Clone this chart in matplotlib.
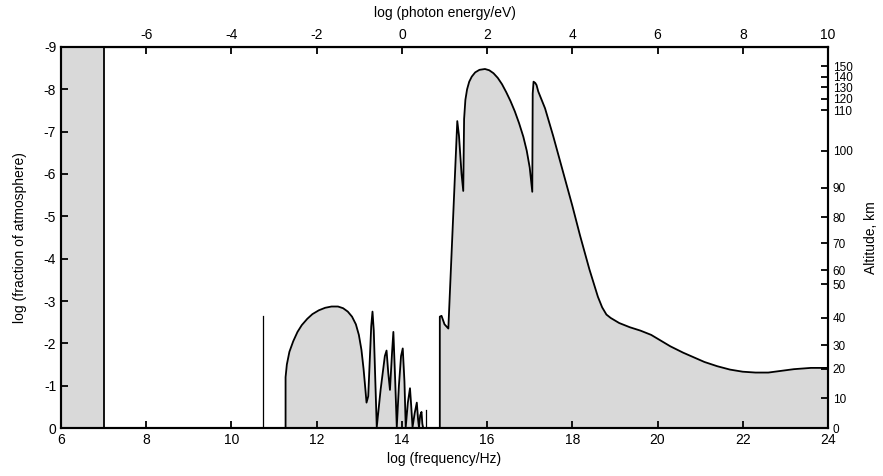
import matplotlib.pyplot as plt
import numpy as np

plt.rcParams['font.family'] = ['Liberation Sans', 'DejaVu Sans']
plt.rcParams['axes.unicode_minus'] = False

## Data: log(fraction of atmosphere) above which radiation is absorbed
# ionospheric cutoff (radio)
radio_cutoff = 7.0
# single narrow line in the far infrared
line_ir_nu = 10.75
line_ir_val = -2.65
# narrow line near the visible window
line_vis_nu = 14.57
line_vis_val = -0.43

# infrared absorption (dome + water/CO2 bands)
ir_nu = [11.27, 11.27, 11.30, 11.36, 11.45, 11.55, 11.65, 11.78, 11.9, 12.05, 12.2,
         12.35, 12.5, 12.62, 12.73, 12.83, 12.92, 12.99, 13.05, 13.1, 13.14, 13.17,
         13.21, 13.28, 13.31, 13.34, 13.41, 13.5, 13.6, 13.64,
         13.68, 13.72, 13.77, 13.8, 13.84, 13.88, 13.93, 13.98, 14.02, 14.06, 14.09,
         14.14, 14.19, 14.22, 14.25, 14.3, 14.35, 14.38, 14.4, 14.43, 14.46, 14.48, 14.5]
ir_val = [0.0, -1.2, -1.5, -1.8, -2.05, -2.27, -2.43, -2.58, -2.69, -2.78, -2.84,
          -2.87, -2.87, -2.83, -2.75, -2.63, -2.45, -2.2, -1.85, -1.4, -0.95, -0.6,
          -0.75, -2.4, -2.75, -2.3, -0.02, -0.9, -1.7, -1.83,
          -1.3, -0.9, -1.8, -2.27, -1.2, -0.02, -1.0, -1.7, -1.88, -1.1, -0.02,
          -0.6, -0.94, -0.5, -0.02, -0.35, -0.6, -0.2, -0.02, -0.3, -0.38, -0.1, 0.0]

# ultraviolet / X-ray / gamma-ray absorption
uv_nu = [14.89, 14.89, 14.93, 15.0, 15.09, 15.30, 15.34, 15.40, 15.44, 15.46, 15.49,
         15.53, 15.58, 15.64, 15.72, 15.82, 15.95, 16.05, 16.15, 16.25, 16.35, 16.45,
         16.55, 16.65, 16.75, 16.85, 16.93, 17.0, 17.06, 17.07, 17.09, 17.13, 17.16,
         17.2, 17.36, 17.55, 17.79, 18.0, 18.18, 18.4, 18.6, 18.7, 18.8, 18.9, 19.1,
         19.35, 19.6, 19.85, 20.1, 20.3, 20.6, 20.85, 21.1, 21.4, 21.7, 22.0, 22.3,
         22.6, 22.9, 23.2, 23.6, 24.0]
uv_val = [0.0, -2.63, -2.65, -2.45, -2.35, -7.25, -6.9, -6.0, -5.6, -7.3, -7.75,
          -8.0, -8.18, -8.3, -8.4, -8.46, -8.48, -8.45, -8.38, -8.27, -8.12, -7.93,
          -7.72, -7.48, -7.2, -6.88, -6.55, -6.15, -5.58, -7.9, -8.18, -8.15, -8.1,
          -7.95, -7.55, -6.9, -6.02, -5.25, -4.55, -3.75, -3.1, -2.85, -2.68, -2.6, -2.48,
          -2.38, -2.3, -2.2, -2.05, -1.93, -1.78, -1.67, -1.56, -1.46, -1.38, -1.33, -1.31,
          -1.31, -1.35, -1.39, -1.42, -1.42]

# altitude scale (km) against log(fraction of atmosphere)
alt_km = [0, 10, 20, 30, 40, 50, 60, 70, 80, 90, 100, 110, 120, 130, 140, 150]
alt_logfrac = [0.0, -0.7, -1.4, -1.96, -2.6, -3.4, -3.73, -4.37, -4.98, -5.67,
               -6.55, -7.5, -7.78, -8.05, -8.3, -8.55]

freq_ticks = [6, 8, 10, 12, 14, 16, 18, 20, 22, 24]
energy_ticks = [-6, -4, -2, 0, 2, 4, 6, 8, 10]
frac_ticks = [0, -1, -2, -3, -4, -5, -6, -7, -8, -9]

fill = '#d9d9d9'


def main():
	fig = plt.figure(figsize=(8.83, 4.76), dpi=100)
	ax = fig.add_axes([0.0691, 0.1008, 0.8686, 0.8005])

	# absorbed regions
	ax.axvspan(6, radio_cutoff, color=fill, lw=0)
	ax.axvline(radio_cutoff, color='black', lw=1.3)
	ax.fill_between(ir_nu, ir_val, 0, color=fill, lw=0)
	ax.plot(ir_nu, ir_val, color='black', lw=1.3)
	ax.fill_between(uv_nu, uv_val, 0, color=fill, lw=0)
	ax.plot(uv_nu, uv_val, color='black', lw=1.3)
	ax.plot([line_ir_nu, line_ir_nu], [0, line_ir_val], color='black', lw=0.9)
	ax.plot([line_vis_nu, line_vis_nu], [0, line_vis_val], color='black', lw=0.9)

	ax.set_xlim(6, 24)
	ax.set_ylim(0, -9)
	ax.set_xticks(freq_ticks)
	ax.set_yticks(frac_ticks)
	ax.set_xlabel("log (frequency/Hz)", fontsize=10, labelpad=4)
	ax.set_ylabel("log (fraction of atmosphere)", fontsize=10, labelpad=12)
	ax.tick_params(direction='in', length=5, width=1.3, labelsize=10)
	for s in ax.spines.values():
		s.set_linewidth(1.5)

	# photon energy on top
	top = ax.secondary_xaxis('top', functions=(lambda x: x - 14, lambda x: x + 14))
	top.set_xticks(energy_ticks)
	top.set_xlabel("log (photon energy/eV)", fontsize=10, labelpad=8)
	top.tick_params(direction='in', length=5, width=1.3, labelsize=10)

	# altitude on the right
	right = ax.twinx()
	right.set_ylim(0, -9)
	right.set_yticks(alt_logfrac)
	right.set_yticklabels([str(a) for a in alt_km])
	right.set_ylabel("Altitude, km", fontsize=10, labelpad=8)
	right.tick_params(direction='in', length=5, width=1.3, labelsize=8.5)
	for s in right.spines.values():
		s.set_linewidth(1.5)

	plt.savefig("out.png")


if __name__ == "__main__":
	main()
